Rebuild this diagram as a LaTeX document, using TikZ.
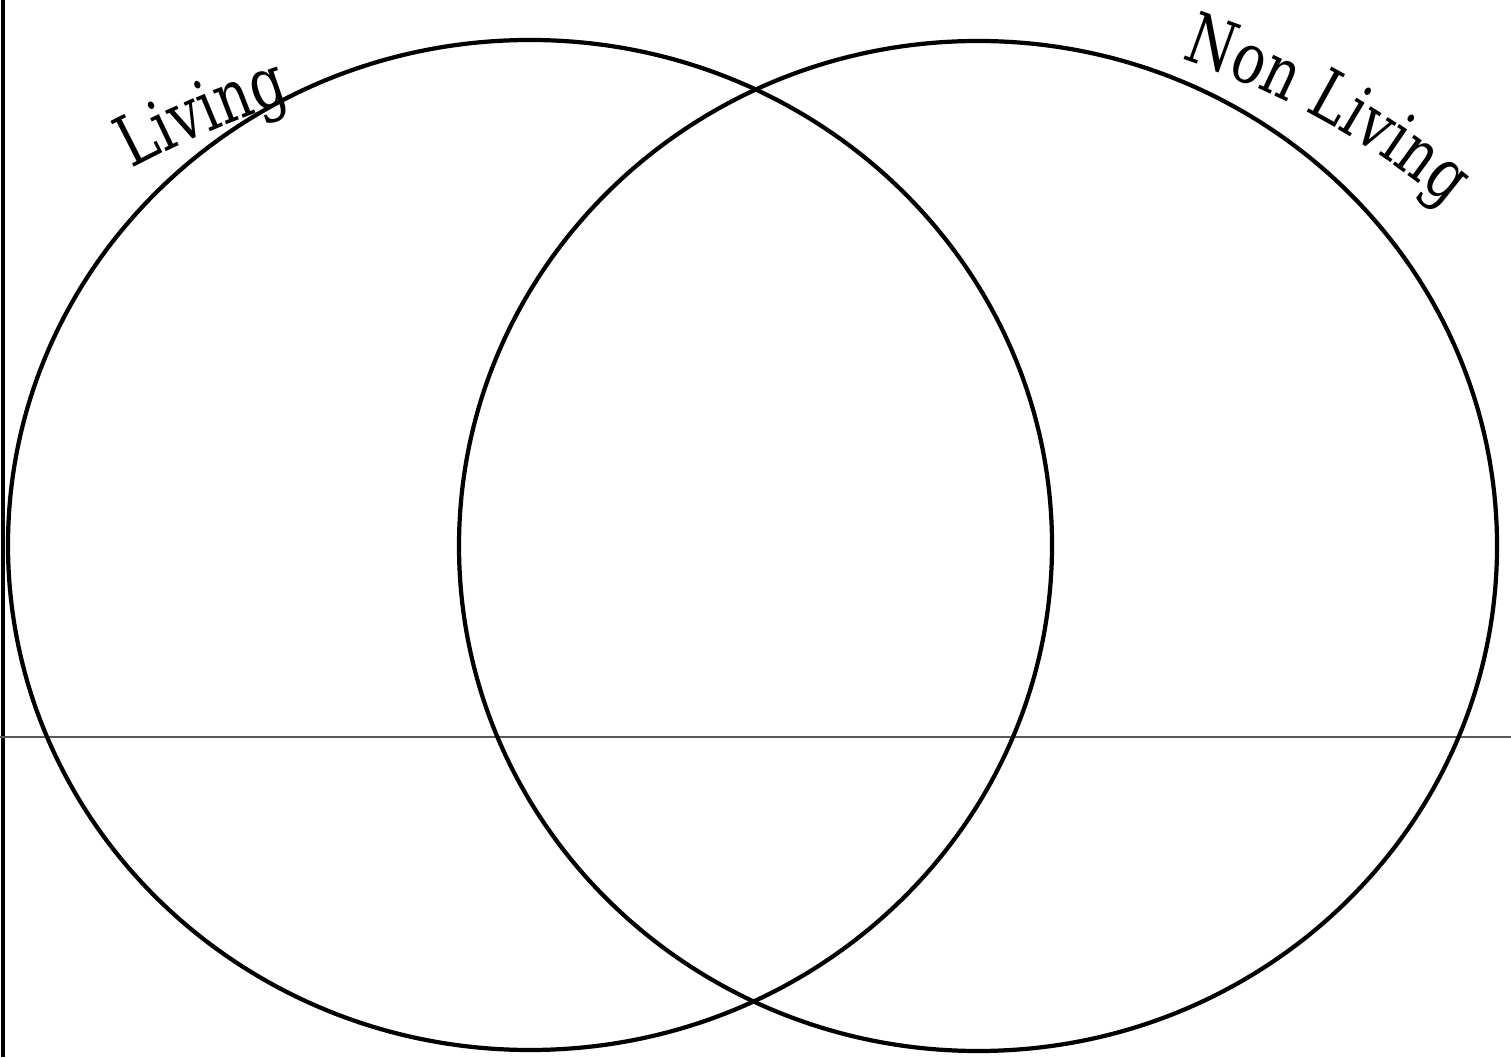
\documentclass[tikz,border=0pt]{standalone}
\usepackage{fontspec}
\setmainfont[FakeStretch=0.78]{DejaVu Serif}
\usetikzlibrary{decorations.text}
\newcommand{\lblfont}{\fontsize{20}{23}\selectfont}

\begin{document}
\begin{tikzpicture}[
  ring/.style={draw=black, line width=1.2pt},
  rule/.style={draw=black!65, line width=0.7pt},
  edge/.style={draw=black, line width=1.1pt},
  curvelbl/.style={decorate, decoration={text along path, text align=left,
              text format delimiters={|}{|}, text={#1}}},
]
\useasboundingbox (0,0) rectangle (15.11,10.57);

%% --- Page edge and ruled line ---
\draw[edge] (0.03,10.57) -- (0.03,0);
\draw[rule] (0,3.20) -- (15.11,3.20);

%% --- Venn circles ---
\draw[ring] (5.30,5.12) ellipse [x radius=5.22, y radius=5.05];
\draw[ring] (9.78,5.11) ellipse [x radius=5.19, y radius=5.05];

%% --- Curved labels ---
\path[curvelbl={|\lblfont|Living}]
  (1.32,8.88) arc [start angle=118, end angle=104, radius=10];
\path[curvelbl={|\lblfont|Non Living}]
  (11.81,9.98) arc [start angle=72, end angle=40, radius=8];
\end{tikzpicture}
\end{document}
